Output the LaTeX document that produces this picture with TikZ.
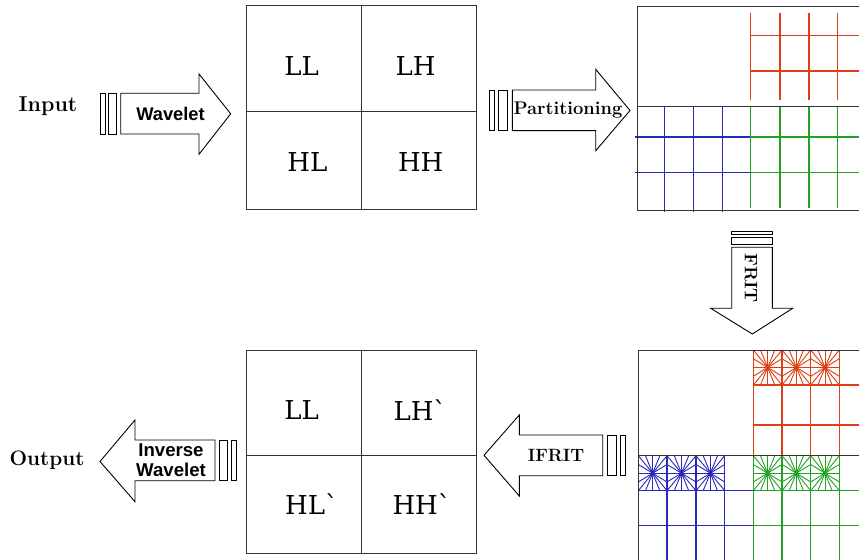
\documentclass[tikz,border=0pt]{standalone}
\usepackage{fontspec}
\newfontfamily\arialb{Liberation Sans}[BoldFont={Liberation Sans Bold}]
\newfontfamily\dvserif{DejaVu Serif}
\definecolor{gridred}{RGB}{222,62,20}
\definecolor{gridblue}{RGB}{40,40,185}
\definecolor{gridgreen}{RGB}{36,160,36}
\newcommand\asastar[5]{%
  \pgfmathsetmacro\cxx{(#1+#3)/2}\pgfmathsetmacro\cyy{(#2+#4)/2}%
  \draw[#5] (#1,#2) rectangle (#3,#4);
  \foreach \fr in {0,0.25,0.5,0.75,1}{%
    \draw[#5] (\cxx,\cyy) -- ({#1+\fr*(#3-#1)},#2);
    \draw[#5] (\cxx,\cyy) -- ({#1+\fr*(#3-#1)},#4);}
  \foreach \fr in {0.25,0.5,0.75}{%
    \draw[#5] (\cxx,\cyy) -- (#1,{#2+\fr*(#4-#2)});
    \draw[#5] (\cxx,\cyy) -- (#3,{#2+\fr*(#4-#2)});}
  \fill[#5] (\cxx,\cyy) circle (2);
}
\tikzset{
  blk/.style={draw=black, line width=0.9bp, fill=white},
  quad/.style={draw=black!80, line width=1bp},
  qlabel/.style={font=\dvserif\fontsize{26bp}{30bp}\selectfont, inner sep=0},
  ser/.style={font=\fontsize{#1bp}{#1bp}\selectfont\bfseries, inner sep=0},
  sansb/.style={font=\arialb\fontsize{#1bp}{22bp}\selectfont\bfseries, inner sep=0, align=center},
  gl/.style={line width=1.25bp},
}
\begin{document}
\begin{tikzpicture}[x=1bp,y=-1bp]
\useasboundingbox (0,0) rectangle (859,560);
\clip (0,0) rectangle (859,560);

% ---------- labels Input / Output ----------
\node[ser=21.5] (input) at (48,106.5) {Input};
\node[ser=20.8] (output) at (47,460) {Output};

% ---------- Wavelet arrow ----------
\draw[blk] (100.7,93.3) rectangle (105.3,134);
\draw[blk] (108.7,93.3) rectangle (116.7,134);
\draw[blk] (120.7,93.3) -- (199,93.3) -- (199,74) -- (230.7,113.8) -- (199,154.3) -- (199,134) -- (120.7,134) -- cycle;
\node[sansb=18.3] (wav) at (170.5,114) {Wavelet};

% ---------- top quadrant box ----------
\node[quad, minimum width=230bp, minimum height=204bp, inner sep=0] (qtop) at (361.7,108) {};
\draw[quad] (361.7,6) -- (361.7,210);
\draw[quad] (246.7,111.7) -- (476.7,111.7);
\node[qlabel] (tll) at (301.7,66) {LL};
\node[qlabel] (tlh) at (415.7,66) {LH};
\node[qlabel] (thl) at (307.3,162.3) {HL};
\node[qlabel] (thh) at (420.7,162.3) {HH};

% ---------- Partitioning arrow ----------
\draw[blk] (489.3,90) rectangle (494.7,130.7);
\draw[blk] (498,90) rectangle (507.3,130.7);
\draw[blk] (512.3,90) -- (595.7,90) -- (595.7,69.3) -- (630,110.5) -- (595.7,150.7) -- (595.7,130.7) -- (512.3,130.7) -- cycle;
\node[ser=18.3] (part) at (568,110.5) {Partitioning};

% ---------- top-right partition grid ----------
\draw[gridred, gl] (750.7,35.7) -- (870,35.7) (750.7,71) -- (870,71);
\foreach \vx in {750.7,780,809,837.3}{\draw[gridred, gl] (\vx,12.7) -- (\vx,100);}
\draw[gridblue, gl] (635,137) -- (750.7,137) (635,172.3) -- (750.7,172.3);
\foreach \vx in {664.3,693.3,722.3}{\draw[gridblue, gl] (\vx,106.7) -- (\vx,212);}
\draw[gridgreen, gl] (750.7,137) -- (870,137) (750.7,172.3) -- (870,172.3);
\foreach \vx in {750.7,780,809,837.3}{\draw[gridgreen, gl] (\vx,106.7) -- (\vx,207.7);}
\draw[quad] (870,6.7) -- (637.7,6.7) -- (637.7,210.7) -- (870,210.7);
\draw[quad] (637.7,106.7) -- (870,106.7);

% ---------- FRIT arrow ----------
\draw[blk] (731.7,231.7) rectangle (772.3,234.7);
\draw[blk] (731.7,237.7) rectangle (772.3,244.7);
\draw[blk] (731.7,247.3) -- (731.7,308.3) -- (710.7,308.3) -- (752.3,334) -- (792.7,308.3) -- (772.3,308.3) -- (772.3,247.3) -- cycle;
\node[ser=18, rotate=-90] (frit) at (751,278) {FRIT};

% ---------- bottom-right FRIT grid ----------
\foreach \vx in {753.3,782,810.7,839.3}{\draw[gridred, gl] (\vx,350) -- (\vx,455.7);}
\draw[gridred, gl] (753.3,385) -- (870,385) (753.3,425) -- (870,425);
\foreach \cx/\cy in {753.3/782,782/810.7,810.7/839.3}{\asastar{\cx}{350}{\cy}{385}{gridred, line width=0.9bp}}
\foreach \vx in {667,696,724.7}{\draw[gridblue, gl] (\vx,455.7) -- (\vx,570);}
\draw[gridblue, gl] (638.3,490.7) -- (753.3,490.7) (638.3,525.7) -- (753.3,525.7);
\foreach \cx/\cy in {638.3/667,667/696,696/724.7}{\asastar{\cx}{455.7}{\cy}{490.7}{gridblue, line width=0.9bp}}
\foreach \vx in {753.3,782,810.7,839.3}{\draw[gridgreen, gl] (\vx,455.7) -- (\vx,570);}
\draw[gridgreen, gl] (753.3,490.7) -- (870,490.7) (753.3,525.7) -- (870,525.7);
\foreach \cx/\cy in {753.3/782,782/810.7,810.7/839.3}{\asastar{\cx}{455.7}{\cy}{490.7}{gridgreen, line width=0.9bp}}
\draw[quad] (870,350) -- (638.3,350) -- (638.3,570);
\draw[quad] (638.3,455.7) -- (870,455.7);

% ---------- IFRIT arrow ----------
\draw[blk] (607,435) rectangle (616,475.7);
\draw[blk] (620,435) rectangle (625,475.7);
\draw[blk] (602.7,435) -- (519.3,435) -- (519.3,415) -- (484,455.3) -- (519.3,496) -- (519.3,475.7) -- (602.7,475.7) -- cycle;
\node[ser=17.8] (ifrit) at (556,455) {IFRIT};

% ---------- bottom quadrant box ----------
\node[quad, minimum width=230bp, minimum height=203.3bp, inner sep=0] (qbot) at (361.7,451.7) {};
\draw[quad] (361.7,350) -- (361.7,553.3);
\draw[quad] (246.7,455.7) -- (476.7,455.7);
\node[qlabel] (bll) at (301.7,410) {LL};
\node[qlabel] (blh) at (420,410) {LH\textasciigrave};
\node[qlabel] (bhl) at (311.7,504.3) {HL\textasciigrave};
\node[qlabel] (bhh) at (421.7,504.3) {HH\textasciigrave};

% ---------- Inverse Wavelet arrow ----------
\draw[blk] (219,440) rectangle (227.7,480.7);
\draw[blk] (231,440) rectangle (236,480.7);
\draw[blk] (215,440) -- (135,440) -- (135,420) -- (100,461.5) -- (135,501.7) -- (135,480.7) -- (215,480.7) -- cycle;
\node[sansb=18.6] (iwav) at (171,460.5) {Inverse\\[-2bp]Wavelet};
\end{tikzpicture}
\end{document}
